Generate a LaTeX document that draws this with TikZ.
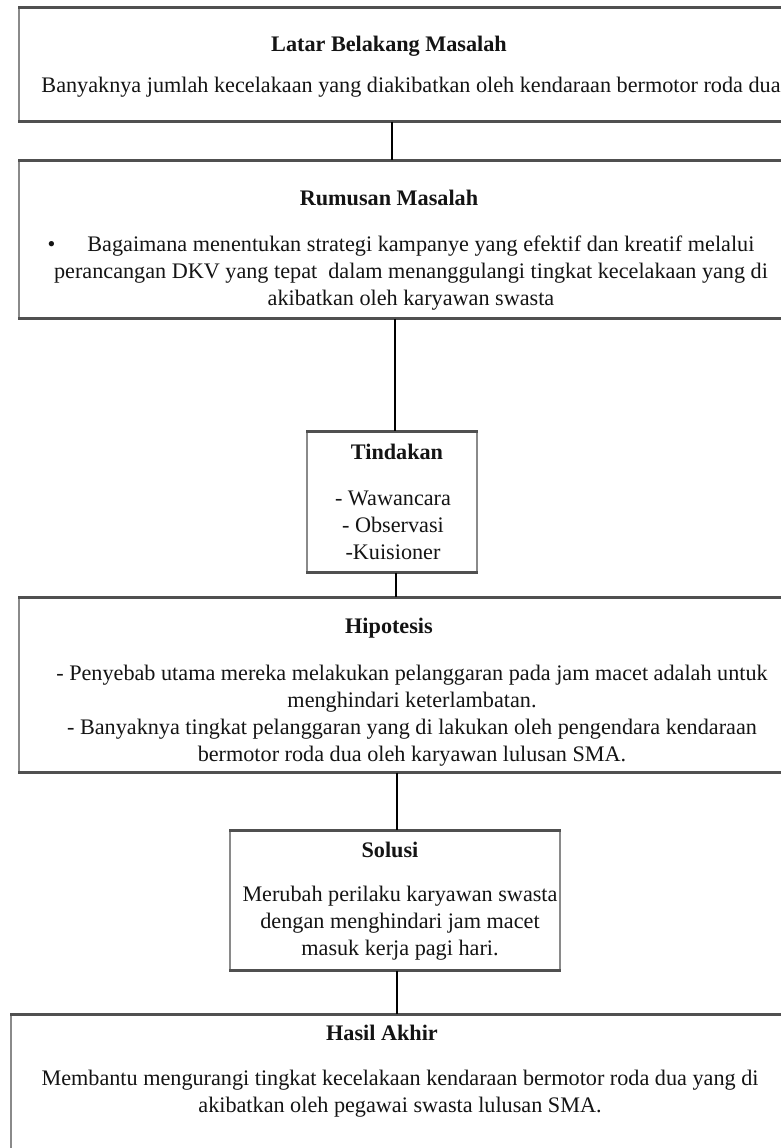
\documentclass[tikz,border=0pt]{standalone}
\usepackage{fontspec}
\setmainfont{Liberation Serif}
\definecolor{edgegray}{HTML}{505050}
\definecolor{sidegray}{HTML}{8A8A8A}
\definecolor{inkc}{HTML}{141414}
\tikzset{
  frame/.style={rectangle, fill=white, draw=sidegray, line width=1.3pt, inner sep=0pt},
  heavy/.style={draw=edgegray, line width=3.6pt},
  link/.style={draw=black, line width=2.6pt},
  txt/.style={inner sep=0pt, text=inkc, font=\fontsize{22.2}{27}\selectfont, align=center},
  ttl/.style={txt, font=\fontsize{22.2}{27}\selectfont\bfseries},
}
\begin{document}
\begin{tikzpicture}[x=1pt,y=-1pt]
\useasboundingbox (0,0) rectangle (781,1148);
\fill[white] (0,0) rectangle (781,1148);
\clip (0,0) rectangle (781,1148);

% boxes
\node[frame, minimum width=801pt, minimum height=113pt] (b1) at (419.5,64.5) {};
\node[frame, minimum width=801pt, minimum height=157pt] (b2) at (419.5,239.5) {};
\node[frame, minimum width=170pt, minimum height=140pt] (b3) at (392,502) {};
\node[frame, minimum width=801pt, minimum height=174pt] (b4) at (419.5,685) {};
\node[frame, minimum width=330pt, minimum height=139pt] (b5) at (395,900.5) {};
\node[frame, minimum width=809pt, minimum height=155pt] (b6) at (415.5,1092.5) {};

% heavy top and bottom edges
\foreach \b in {b1,b2,b3,b4,b5,b6}{
  \draw[heavy] (\b.north west) -- (\b.north east);
  \draw[heavy] (\b.south west) -- (\b.south east);
}

% connectors
\draw[link] (b3.north |- b1.south) -- (b3.north |- b2.north);
\draw[link] ([xshift=3pt]b3.north |- b2.south) -- ([xshift=3pt]b3.north);
\draw[link] ([xshift=4pt]b3.south) -- ([xshift=4pt]b3.south |- b4.north);
\draw[link] ([xshift=2pt]b5.north |- b4.south) -- ([xshift=2pt]b5.north);
\draw[link] ([xshift=2pt]b5.south) -- ([xshift=2pt]b5.south |- b6.north);

% texts
\node[ttl] (t1) at (389,46) {Latar Belakang Masalah};
\node[txt] (t1b) at (411,87) {Banyaknya jumlah kecelakaan yang diakibatkan oleh kendaraan bermotor roda dua};

\node[ttl] (t2) at (389,198) {Rumusan Masalah};
\node[txt] (t2b) at (411,273) {\textbullet\hspace{32pt}Bagaimana menentukan strategi kampanye yang efektif dan kreatif melalui\hspace{20pt}\mbox{}\\
perancangan DKV yang tepat\ \ dalam menanggulangi tingkat kecelakaan yang di\\
akibatkan oleh karyawan swasta};

\node[ttl] (t3) at (397,452) {Tindakan};
\node[txt] (t3b) at (393,525.5) {- Wawancara\\- Observasi\\-Kuisioner};

\node[ttl] (t4) at (389,628) {Hipotesis};
\node[txt] (t4b) at (412,716) {- Penyebab utama mereka melakukan pelanggaran pada jam macet adalah untuk\\
menghindari keterlambatan.\\
- Banyaknya tingkat pelanggaran yang di lakukan oleh pengendara kendaraan\\
bermotor roda dua oleh karyawan lulusan SMA.};

\node[ttl] (t5) at (390,850) {Solusi};
\node[txt] (t5b) at (400,923) {Merubah perilaku karyawan swasta\\dengan menghindari jam macet\\masuk kerja pagi hari.};

\node[ttl] (t6) at (382,1033) {Hasil Akhir};
\node[txt] (t6b) at (400,1093.5) {Membantu mengurangi tingkat kecelakaan kendaraan bermotor roda dua yang di\\akibatkan oleh pegawai swasta lulusan SMA.};
\end{tikzpicture}
\end{document}
